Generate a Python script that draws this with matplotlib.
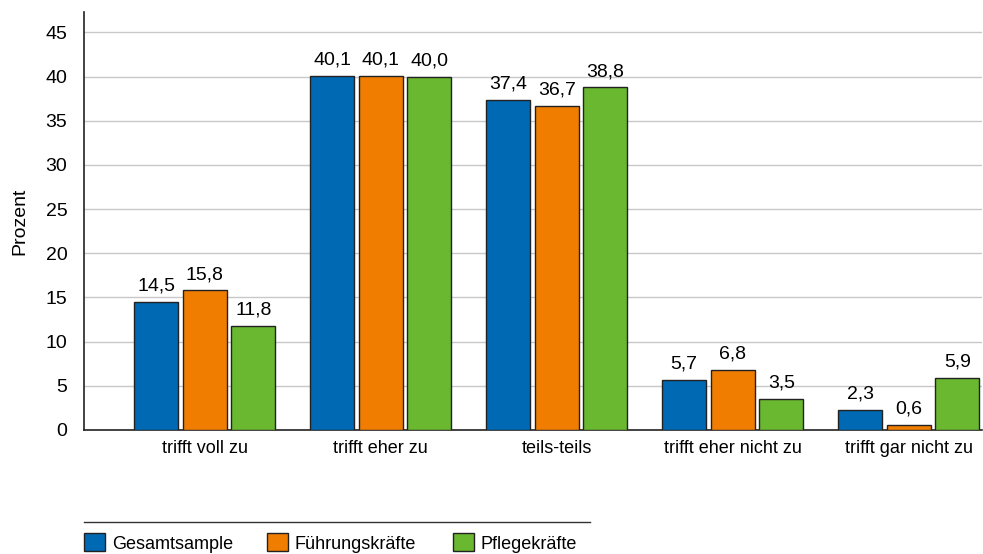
import numpy as np
import matplotlib.pyplot as plt
from matplotlib.lines import Line2D
from matplotlib.patches import Patch

plt.rcParams['font.family'] = ['Liberation Sans', 'DejaVu Sans']

categories = ["trifft voll zu", "trifft eher zu", "teils-teils",
              "trifft eher nicht zu", "trifft gar nicht zu"]
series = ["Gesamtsample", "Führungskräfte", "Pflegekräfte"]
gesamt = [14.5, 40.1, 37.4, 5.7, 2.3]
fuehrung = [15.8, 40.1, 36.7, 6.8, 0.6]
pflege = [11.8, 40.0, 38.8, 3.5, 5.9]
colors = ["#0069b4", "#f07d00", "#6ab730"]

fig = plt.figure(figsize=(9.83, 5.54), dpi=100)
ax = fig.add_axes([0.0855, 0.224, 0.913, 0.754])

x = np.arange(len(categories))
width = 0.25
step = 0.276
for i, (vals, name, col) in enumerate(zip([gesamt, fuehrung, pflege], series, colors)):
    pos = x + (i - 1) * step
    ax.bar(pos, vals, width, color=col, edgecolor="#222222", linewidth=1.0,
           label=name, zorder=3)
    for p, v in zip(pos, vals):
        ax.text(p, v + 0.8, f"{v:.1f}".replace(".", ","), ha="center",
                va="bottom", fontsize=14)

ax.set_ylim(0, 47.3)
ax.set_xlim(-0.687, 4.414)
ax.set_yticks(np.arange(0, 50, 5))
ax.set_xticks(x)
ax.set_xticklabels(categories, fontsize=13)
ax.tick_params(axis="both", length=0)
ax.tick_params(axis="y", pad=12, labelsize=14)
ax.tick_params(axis="x", pad=7)
ax.yaxis.grid(True, color="#c8c8c8", linewidth=1.0, zorder=0)
ax.set_axisbelow(True)
for s in ["top", "right"]:
    ax.spines[s].set_visible(False)
for s in ["left", "bottom"]:
    ax.spines[s].set_color("#222222")
    ax.spines[s].set_linewidth(1.2)
ax.set_ylabel("Prozent", fontsize=14, labelpad=12)

# legend: rule above, one entry per slot
fig.add_artist(Line2D([0.0855, 0.6], [1 - 522 / 554] * 2, color="#333333", linewidth=1.0))
legend_x = [84, 267, 453]
for name, col, lx in zip(series, colors, legend_x):
    h = Patch(facecolor=col, edgecolor="#222222", linewidth=1.0)
    fig.legend([h], [name], loc="center left",
               bbox_to_anchor=(lx / 983, 1 - 543 / 554), frameon=False,
               fontsize=13, handlelength=1.15, handleheight=1.15,
               handletextpad=0.4, borderaxespad=0, borderpad=0)

fig.savefig("out.png", dpi=100)
